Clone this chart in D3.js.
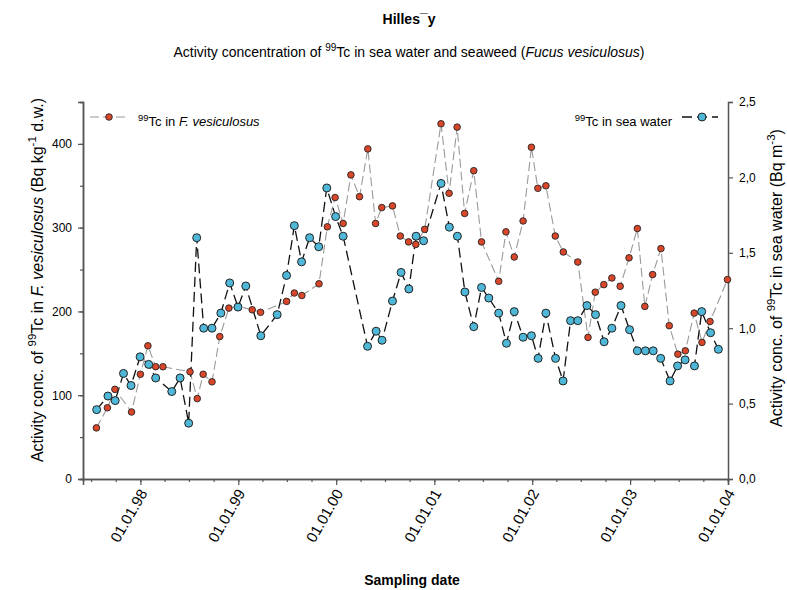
<!DOCTYPE html>
<html>
<head>
<meta charset="utf-8">
<script src="https://cdn.jsdelivr.net/npm/d3@7"></script>
<style>
  body { margin: 0; background: #fff; }
  text { font-family: "Liberation Sans", Arial, sans-serif; fill: #000; }
</style>
</head>
<body>
<script>
var svgWidth = 787;
var svgHeight = 590;

var margin = { top: 102, right: 59, bottom: 111, left: 83 };
var width = svgWidth - margin.left - margin.right;
var height = svgHeight - margin.top - margin.bottom;

// Fucus vesiculosus (Bq/kg d.w.)
var fucusDates = ["1997-07-21","1997-08-31","1997-09-28","1997-11-29","1998-01-01","1998-01-29","1998-02-27","1998-03-26",
  "1998-07-05","1998-08-01","1998-08-23","1998-09-25","1998-10-24","1998-11-27","1998-12-31","1999-02-22","1999-03-25",
  "1999-06-30","1999-07-29","1999-08-26","1999-10-29","1999-11-29","1999-12-28","2000-01-27","2000-02-25","2000-03-28",
  "2000-04-28","2000-05-27","2000-06-19","2000-07-29","2000-08-27","2000-09-27","2000-10-24","2000-11-26","2001-01-26",
  "2001-02-25","2001-03-27","2001-04-24","2001-05-28","2001-06-26","2001-08-29","2001-09-25","2001-10-26","2001-11-28",
  "2001-12-29","2002-01-22","2002-02-21","2002-03-28","2002-04-27","2002-06-20","2002-07-28","2002-08-24","2002-09-25",
  "2002-10-25","2002-11-25","2002-12-28","2003-01-28","2003-02-25","2003-03-26","2003-04-26","2003-05-27","2003-06-28",
  "2003-07-26","2003-08-28","2003-09-26","2003-10-26","2003-12-30"];
var fucusValues = [61,85,107,80,125,159,134,134,
  128,96,125,116,170,204,206,202,199,
  212,222,219,233,301,336,305,363,337,
  394,305,324,326,290,283,280,298,424,
  341,420,317,368,283,236,295,265,308,
  396,347,350,290,271,259,169,223,232,
  240,230,264,299,206,244,275,183,149,
  153,198,163,188,238];

// sea water (Bq/m3)
var waterDates = ["1997-07-22","1997-09-02","1997-09-29","1997-10-30","1997-11-27","1997-12-31","1998-02-01","1998-02-27",
  "1998-04-28","1998-05-29","1998-06-30","1998-07-30","1998-08-25","1998-09-25","1998-10-28","1998-11-30","1998-12-31",
  "1999-01-29","1999-03-26","1999-05-26","1999-06-30","1999-07-29","1999-08-25","1999-09-24","1999-10-28","1999-11-27",
  "1999-12-30","2000-01-27","2000-04-27","2000-05-29","2000-06-20","2000-07-29","2000-08-30","2000-09-28","2000-10-25",
  "2000-11-22","2001-01-26","2001-02-26","2001-03-28","2001-04-25","2001-05-28","2001-06-26","2001-07-23","2001-08-29",
  "2001-09-27","2001-10-26","2001-11-28","2001-12-29","2002-01-23","2002-02-21","2002-03-29","2002-04-26","2002-05-24",
  "2002-06-20","2002-07-24","2002-08-25","2002-09-26","2002-10-25","2002-11-28","2002-12-30","2003-01-28","2003-02-27",
  "2003-03-28","2003-04-25","2003-05-30","2003-06-27","2003-07-25","2003-08-29","2003-09-25","2003-10-28","2003-11-26"];
var waterValues = [0.46,0.55,0.52,0.70,0.62,0.81,0.76,0.67,
  0.58,0.67,0.37,1.60,1.00,1.00,1.10,1.30,1.14,
  1.28,0.95,1.09,1.35,1.68,1.44,1.60,1.54,1.93,
  1.74,1.61,0.88,0.98,0.92,1.18,1.37,1.26,1.61,
  1.58,1.96,1.67,1.61,1.24,1.01,1.27,1.20,1.10,
  0.90,1.11,0.94,0.95,0.80,1.10,0.80,0.65,1.05,
  1.05,1.15,1.09,0.91,1.00,1.15,0.99,0.85,0.85,
  0.85,0.80,0.65,0.75,0.79,0.75,1.11,0.97,0.86];

var leftTicks = [0, 100, 200, 300, 400];
var rightTicks = [0, 0.5, 1, 1.5, 2, 2.5];

var parse = d3.timeParse("%Y-%m-%d");
var fucus = fucusDates.map(function(d, i) { return { date: parse(d), value: fucusValues[i] }; });
var water = waterDates.map(function(d, i) { return { date: parse(d), value: waterValues[i] }; });

var svg = d3.select("body").append("svg")
  .attr("width", svgWidth)
  .attr("height", svgHeight);

var chartGroup = svg.append("g")
  .attr("transform", `translate(${margin.left}, ${margin.top})`);

var x = d3.scaleTime().domain([new Date(1997, 5, 1), new Date(2004, 0, 1)]).range([0, width]);
var yLeft = d3.scaleLinear().domain([0, 450]).range([height, 0]);
var yRight = d3.scaleLinear().domain([0, 2.5]).range([height, 0]);

var axisColor = "#555";

// bottom axis: minor quarterly ticks, then yearly major ticks
var xMinor = chartGroup.append("g")
  .attr("transform", `translate(0, ${height})`)
  .call(d3.axisBottom(x).ticks(d3.timeMonth.every(3)).tickSize(3).tickFormat(""));
var xMajor = chartGroup.append("g")
  .attr("transform", `translate(0, ${height})`)
  .call(d3.axisBottom(x).ticks(d3.timeYear.every(1)).tickSize(6).tickFormat(d3.timeFormat("%d.%m.%y")));
xMajor.selectAll("text")
  .style("font-size", "15px")
  .attr("text-anchor", "end")
  .attr("dx", "0")
  .attr("dy", "0")
  .attr("y", 0).attr("x", 0)
  .attr("transform", "translate(7,14) rotate(-60)");

// left axis
var yLMinor = chartGroup.append("g")
  .call(d3.axisLeft(yLeft).tickValues(d3.range(0, 451, 50)).tickSize(3).tickFormat(""));
var yLMajor = chartGroup.append("g")
  .call(d3.axisLeft(yLeft).tickValues(leftTicks).tickSize(5).tickPadding(6));
yLMajor.selectAll("text").style("font-size", "12px");

// right axis
var yRMajor = chartGroup.append("g")
  .attr("transform", `translate(${width}, 0)`)
  .call(d3.axisRight(yRight).tickValues(rightTicks).tickSize(5).tickPadding(6)
    .tickFormat(function(d) { return d3.format(".1f")(d).replace(".", ","); }));
yRMajor.selectAll("text").style("font-size", "12px");

[xMinor, xMajor, yLMinor, yLMajor, yRMajor].forEach(function(g) {
  g.select(".domain").attr("stroke", axisColor).attr("stroke-width", 1.5);
  g.selectAll(".tick line").attr("stroke", axisColor).attr("stroke-width", 1.2);
  g.selectAll("text").style("font-family", "Liberation Sans, Arial, sans-serif").attr("fill", "#000");
});

// lines
var lineF = d3.line().x(d => x(d.date)).y(d => yLeft(d.value));
var lineW = d3.line().x(d => x(d.date)).y(d => yRight(d.value));

chartGroup.append("path")
  .datum(fucus)
  .attr("d", lineF)
  .attr("fill", "none")
  .attr("stroke", "#9a9a9a")
  .attr("stroke-width", 1.1)
  .attr("stroke-dasharray", "9,4");

chartGroup.append("path")
  .datum(water)
  .attr("d", lineW)
  .attr("fill", "none")
  .attr("stroke", "#111")
  .attr("stroke-width", 1.3)
  .attr("stroke-dasharray", "10,5");

chartGroup.selectAll("circle.f")
  .data(fucus)
  .enter()
  .append("circle")
  .attr("class", "f")
  .attr("cx", d => x(d.date))
  .attr("cy", d => yLeft(d.value))
  .attr("r", 3.3)
  .attr("fill", "#d9472b")
  .attr("stroke", "#222")
  .attr("stroke-width", 0.9);

chartGroup.selectAll("circle.w")
  .data(water)
  .enter()
  .append("circle")
  .attr("class", "w")
  .attr("cx", d => x(d.date))
  .attr("cy", d => yRight(d.value))
  .attr("r", 4)
  .attr("fill", "#4fb7d8")
  .attr("stroke", "#222")
  .attr("stroke-width", 1);

// legends
var legF = svg.append("g");
legF.append("line").attr("x1", 90).attr("x2", 127).attr("y1", 117).attr("y2", 117)
  .attr("stroke", "#9a9a9a").attr("stroke-width", 1.1).attr("stroke-dasharray", "9,4");
legF.append("circle").attr("cx", 109).attr("cy", 117).attr("r", 3.3)
  .attr("fill", "#d9472b").attr("stroke", "#222").attr("stroke-width", 0.9);
var tF = legF.append("text").attr("x", 138).attr("y", 126).style("font-size", "13px");
tF.append("tspan").text("99").style("font-size", "9.5px").attr("dy", "-5");
tF.append("tspan").text("Tc in ").attr("dy", "5");
tF.append("tspan").text("F. vesiculosus").style("font-style", "italic");

var legW = svg.append("g");
legW.append("line").attr("x1", 682).attr("x2", 718).attr("y1", 117).attr("y2", 117)
  .attr("stroke", "#111").attr("stroke-width", 1.3).attr("stroke-dasharray", "10,5");
legW.append("circle").attr("cx", 702).attr("cy", 117).attr("r", 4)
  .attr("fill", "#4fb7d8").attr("stroke", "#222").attr("stroke-width", 1);
var tW = legW.append("text").attr("x", 672).attr("y", 126).attr("text-anchor", "end").style("font-size", "13px");
tW.append("tspan").text("99").style("font-size", "9.5px").attr("dy", "-5");
tW.append("tspan").text("Tc in sea water").attr("dy", "5");

// titles
svg.append("text").attr("x", 409).attr("y", 24).attr("text-anchor", "middle")
  .style("font-size", "14px").style("font-weight", "bold").text("Hilles¯y");

var sub = svg.append("text").attr("x", 409).attr("y", 57).attr("text-anchor", "middle").style("font-size", "14px");
sub.append("tspan").text("Activity concentration of ");
sub.append("tspan").text("99").style("font-size", "10px").attr("dy", "-6");
sub.append("tspan").text("Tc in sea water and seaweed (").attr("dy", "6");
sub.append("tspan").text("Fucus vesiculosus").style("font-style", "italic");
sub.append("tspan").text(")");

svg.append("text").attr("x", 412).attr("y", 585).attr("text-anchor", "middle")
  .style("font-size", "14px").style("font-weight", "bold").text("Sampling date");

// y axis titles
var yl = svg.append("text")
  .attr("transform", "translate(43, 280) rotate(-90)")
  .attr("text-anchor", "middle")
  .style("font-size", "16px");
yl.append("tspan").text("Activity conc. of ");
yl.append("tspan").text("99").style("font-size", "11.5px").attr("dy", "-7");
yl.append("tspan").text("Tc in ").attr("dy", "7");
yl.append("tspan").text("F. vesiculosus").style("font-style", "italic");
yl.append("tspan").text(" (Bq kg");
yl.append("tspan").text("-1").style("font-size", "11.5px").attr("dy", "-7");
yl.append("tspan").text(" d.w.)").attr("dy", "7");

var yr = svg.append("text")
  .attr("transform", "translate(782, 278) rotate(-90)")
  .attr("text-anchor", "middle")
  .style("font-size", "16px");
yr.append("tspan").text("Activity conc. of ");
yr.append("tspan").text("99").style("font-size", "11.5px").attr("dy", "-7");
yr.append("tspan").text("Tc in sea water (Bq m").attr("dy", "7");
yr.append("tspan").text("-3").style("font-size", "11.5px").attr("dy", "-7");
yr.append("tspan").text(")").attr("dy", "7");
</script>
</body>
</html>
